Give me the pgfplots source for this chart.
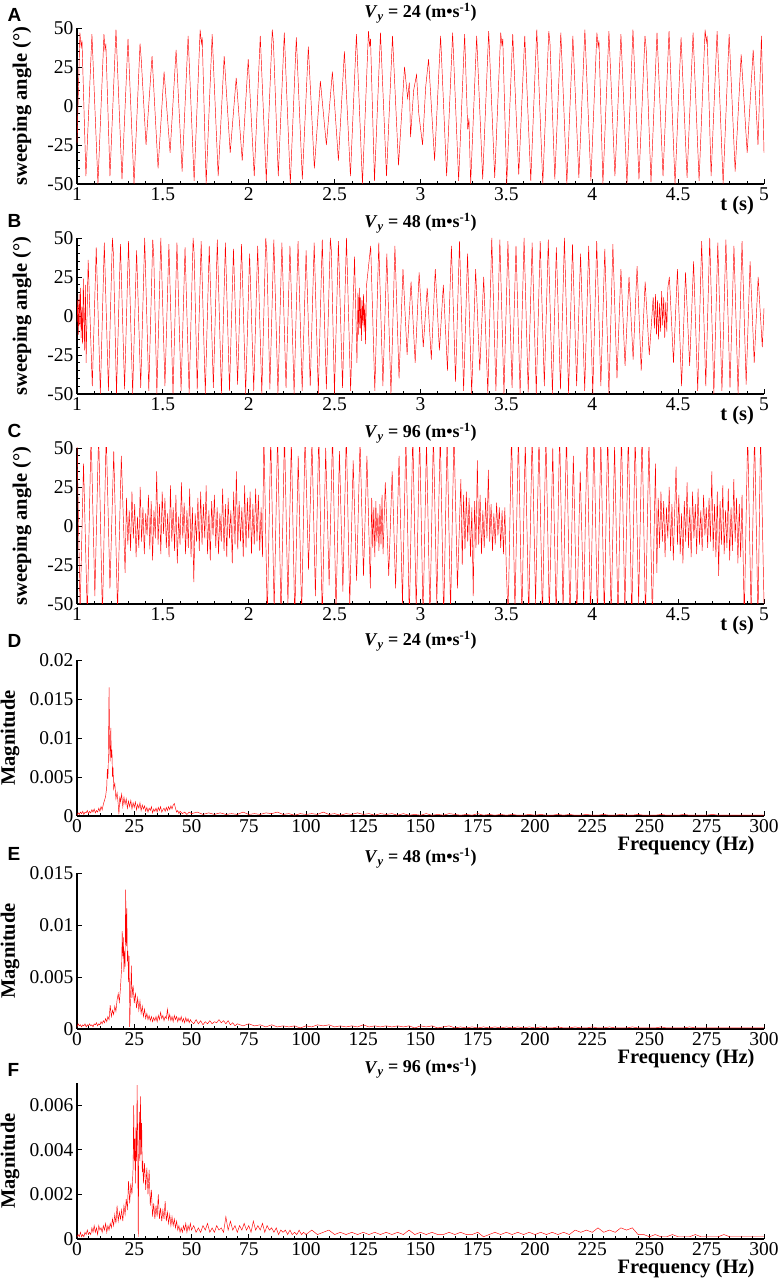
\documentclass[border=0pt]{standalone}
\usepackage{fontspec}
\setmainfont{Liberation Serif}
\setsansfont{Liberation Sans}
\usepackage{pgfplots}
\pgfplotsset{compat=1.18}
\newcommand{\vy}[1]{\textit{V}\textsubscript{\textit{y}} = #1 (m•s\textsuperscript{-1})}
\pgfplotsset{
  sig/.style={red, line width=0.45pt, mark=none},
  base/.style={
    scale only axis, width=687pt, height=156pt,
    anchor=south west,
    axis lines=left,
    axis line style={-, line width=1.2pt, black},
    tick align=inside,
    major tick style={black, line width=0.9pt},
    minor tick style={black, line width=0.6pt},
    major tick length=5pt, minor tick length=3pt,
    tick label style={font=\fontsize{19.5}{21}\selectfont},
    label style={font=\fontsize{20.5}{23}\selectfont\bfseries},
    title style={font=\fontsize{18}{20}\selectfont\bfseries, at={(0.5,1)}, anchor=base, yshift=4pt},
  },
  tser/.style={base, xmin=1, xmax=5, ymin=-50, ymax=50,
    xtick={1,1.5,2,2.5,3,3.5,4,4.5,5}, xticklabels={1,1.5,2,2.5,3,3.5,4,4.5,5},
    ytick={-50,-25,0,25,50}, yticklabels={-50,-25,0,25,50},
    minor x tick num=4, minor y tick num=4,
    xlabel={t (s)}, ylabel={sweeping angle (°)},
    xlabel style={at={(axis description cs:0.961,0)}, anchor=center, yshift=-22pt},
    ylabel style={at={(axis description cs:-0.0801,0.5)}, anchor=center},
  },
  spec/.style={base, xmin=0, xmax=300, ymin=0,
    xtick={0,25,50,75,100,125,150,175,200,225,250,275,300},
    xticklabels={0,25,50,75,100,125,150,175,200,225,250,275,300},
    minor x tick num=4, scaled y ticks=false,
    xlabel={Frequency (Hz)}, ylabel={Magnitude},
    xlabel style={at={(axis description cs:0.8865,0)}, anchor=center, yshift=-30pt},
    ylabel style={at={(axis description cs:-0.0975,0.5)}, anchor=center},
  },
}
\begin{document}
\begin{tikzpicture}
\useasboundingbox (0pt,0pt) rectangle (782pt,1281pt);
\tikzset{plab/.style={anchor=base west, font=\fontsize{19}{20}\selectfont\sffamily\bfseries}}
\node[plab] at (4pt,1259pt) {A};
\node[plab] at (4pt,1053pt) {B};
\node[plab] at (4pt,843pt) {C};
\node[plab] at (4pt,633pt) {D};
\node[plab] at (4pt,420pt) {E};
\node[plab] at (4pt,204pt) {F};

% ---------------- A ----------------
\begin{axis}[tser, at={(77pt,1097pt)}, title={\vy{24}}]
\addplot[sig] coordinates {
(1.000,-24) (1.017,47) (1.024,38) (1.029,42) (1.052,-45) (1.087,46) (1.122,-50) (1.157,46) (1.163,36) (1.168,40) (1.192,-45) (1.227,49) (1.262,-47) (1.297,43) (1.332,-50) (1.367,40) (1.374,30) (1.402,-25) (1.437,32) (1.472,-40) (1.507,22) (1.542,-30) (1.577,36) (1.612,-42) (1.647,45) (1.682,-48) (1.717,49) (1.724,40) (1.729,44) (1.752,-50) (1.787,46) (1.822,-45) (1.857,32) (1.892,-30) (1.927,18) (1.962,-35) (1.997,30) (2.032,-45) (2.067,45) (2.102,-48) (2.137,49) (2.144,40) (2.172,-45) (2.207,47) (2.242,-50) (2.277,44) (2.312,-47) (2.347,38) (2.382,-40) (2.417,16) (2.452,-25) (2.487,22) (2.522,-35) (2.557,35) (2.592,-45) (2.627,46) (2.662,-50) (2.697,48) (2.704,38) (2.709,43) (2.732,-48) (2.767,47) (2.802,-45) (2.837,45) (2.872,-38) (2.907,25) (2.925,5) (2.935,15) (2.942,-20) (2.960,10) (2.977,20) (2.990,-5) (3.012,-25) (3.030,12) (3.047,30) (3.082,-35) (3.117,45) (3.152,-45) (3.187,47) (3.222,-48) (3.257,46) (3.275,-15) (3.282,-8) (3.292,-50) (3.327,45) (3.362,-47) (3.397,48) (3.432,-46) (3.467,47) (3.474,39) (3.479,43) (3.502,-50) (3.537,46) (3.572,-44) (3.607,45) (3.642,-48) (3.677,49) (3.712,-50) (3.747,48) (3.754,40) (3.782,-47) (3.817,47) (3.852,-50) (3.887,45) (3.922,-46) (3.957,49) (3.992,-48) (4.027,47) (4.034,38) (4.039,42) (4.062,-50) (4.097,48) (4.132,-45) (4.167,46) (4.202,-50) (4.237,49) (4.272,-47) (4.307,45) (4.314,37) (4.342,-49) (4.377,47) (4.412,-45) (4.447,48) (4.482,-50) (4.517,44) (4.552,-46) (4.587,47) (4.622,-48) (4.657,49) (4.664,41) (4.669,45) (4.692,-45) (4.727,48) (4.762,-50) (4.797,46) (4.832,-42) (4.867,33) (4.902,-30) (4.937,36) (4.965,-25) (4.985,45) (5.000,-30)
};
\end{axis}

% ---------------- B ----------------
\begin{axis}[tser, at={(77pt,887pt)}, title={\vy{48}}]
\addplot[sig] coordinates {
(1.000,-4) (1.004,10) (1.008,-12) (1.012,14) (1.016,-6) (1.020,18) (1.024,-14) (1.028,6) (1.032,-18) (1.037,24) (1.043,-22) (1.049,20) (1.053,-30)
(1.065,36) (1.089,-45) (1.112,44) (1.136,-50) (1.159,47) (1.183,-48) (1.206,50) (1.212,40) (1.230,-50) (1.253,46) (1.277,-47) (1.300,48) (1.324,-50) (1.347,42) (1.371,-46) (1.394,50) (1.418,-48) (1.441,49) (1.447,38) (1.465,-50) (1.488,50) (1.512,-45) (1.535,46) (1.559,-50) (1.582,47) (1.606,-48) (1.629,44) (1.653,-50) (1.676,50) (1.682,40) (1.700,-47) (1.723,48) (1.747,-50) (1.770,45) (1.794,-46) (1.817,49) (1.841,-50) (1.864,47) (1.888,-48) (1.911,43) (1.935,-44) (1.958,46) (1.982,-50) (2.005,40) (2.029,-48) (2.052,45) (2.076,-50) (2.099,50) (2.105,41) (2.123,-47) (2.146,49) (2.170,-50) (2.193,47) (2.217,-46) (2.240,45) (2.264,-50) (2.287,48) (2.311,-48) (2.334,42) (2.358,-45) (2.381,47) (2.405,-50) (2.428,49) (2.452,-47) (2.475,50) (2.481,42) (2.499,-50) (2.522,48) (2.546,-46) (2.569,50) (2.593,-48) (2.616,38) (2.630,-30)
(2.636,15) (2.640,-12) (2.644,18) (2.648,-8) (2.652,12) (2.656,-16) (2.660,10) (2.664,-6) (2.668,14) (2.672,-10) (2.676,8) (2.680,-18) (2.686,20)
(2.710,45) (2.734,-48) (2.757,47) (2.781,-45) (2.804,40) (2.828,-50) (2.851,45) (2.875,-40) (2.898,30) (2.922,-25) (2.945,22) (2.969,-30) (2.992,28) (3.016,-20) (3.039,18) (3.063,-28) (3.086,30) (3.110,-22) (3.133,20) (3.157,-35) (3.180,45) (3.204,-42) (3.227,48) (3.251,-48) (3.274,40) (3.298,-50) (3.321,30) (3.345,-35) (3.368,25) (3.392,-50) (3.415,50) (3.439,-48) (3.462,49) (3.486,-50) (3.509,48) (3.533,-46) (3.556,45) (3.580,-50) (3.603,50) (3.627,-49) (3.650,47) (3.674,-50) (3.697,48) (3.721,-45) (3.744,49) (3.768,-50) (3.791,44) (3.815,-47) (3.838,50) (3.862,-50) (3.885,46) (3.909,-45) (3.932,40) (3.956,-48) (3.979,45) (4.003,-50) (4.026,48) (4.050,-45) (4.073,43) (4.097,-50) (4.120,46) (4.144,-40) (4.167,30) (4.191,-32) (4.214,25) (4.238,-28) (4.261,32) (4.285,-35) (4.308,22) (4.332,-25) (4.355,12)
(4.362,-8) (4.368,14) (4.374,-12) (4.380,10) (4.386,-15) (4.392,8) (4.398,-10) (4.404,16) (4.410,-6) (4.416,12) (4.422,-14) (4.428,9) (4.434,-10) (4.440,18)
(4.449,25) (4.473,-30) (4.496,30) (4.520,-45) (4.543,28) (4.567,-32) (4.590,35) (4.614,-48) (4.637,48) (4.661,-45) (4.684,50) (4.708,-50) (4.731,47) (4.755,-48) (4.778,49) (4.802,-46) (4.825,45) (4.849,-50) (4.872,48) (4.896,-44) (4.919,35) (4.943,-30) (4.966,25) (4.990,-20) (5.000,5)
};
\end{axis}

% ---------------- C ----------------
\begin{axis}[tser, at={(77pt,677pt)}, title={\vy{96}}]
\addplot[sig] coordinates {
(1.000,55) (1.018,-55) (1.038,40) (1.060,-58) (1.082,60) (1.104,-45) (1.126,60) (1.148,-58) (1.170,60) (1.192,-40) (1.214,48) (1.236,-55) (1.258,45) (1.280,-30)
(1.288,18) (1.296,-12) (1.304,10) (1.312,-16) (1.320,22) (1.328,-8) (1.336,14) (1.344,-20) (1.352,6) (1.360,-14) (1.368,25) (1.376,-10) (1.384,12) (1.392,-18) (1.400,8) (1.408,-6) (1.416,20) (1.424,-15) (1.432,16) (1.440,-22) (1.448,10) (1.456,-8) (1.464,35) (1.472,-12) (1.480,14) (1.488,-18) (1.496,22) (1.504,-5) (1.512,18) (1.520,-14) (1.528,8) (1.536,-20) (1.544,26) (1.552,-10) (1.560,12) (1.568,-16) (1.576,20) (1.584,-24) (1.592,6) (1.600,-12) (1.608,28) (1.616,-8) (1.624,15) (1.632,-18) (1.640,10) (1.648,-14) (1.656,24) (1.664,-20) (1.672,12) (1.680,-36) (1.688,8) (1.696,-10) (1.704,18) (1.712,-16) (1.720,22) (1.728,-12) (1.736,14) (1.744,-8) (1.752,26) (1.760,-18) (1.768,10) (1.776,-22) (1.784,16) (1.792,-6) (1.800,20) (1.808,-14) (1.816,12) (1.824,-18) (1.832,8) (1.840,-10) (1.848,24) (1.856,-16) (1.864,14) (1.872,-20) (1.880,18) (1.888,-8) (1.896,10) (1.904,-24) (1.912,22) (1.920,-12) (1.928,35) (1.936,-15) (1.944,16) (1.952,-10) (1.960,12) (1.968,-20) (1.976,26) (1.984,-14) (1.992,18) (2.000,-8) (2.008,22) (2.016,-18) (2.024,14) (2.032,-12) (2.040,24) (2.048,-10) (2.056,20) (2.064,-16) (2.072,12) (2.080,-20)
(2.088,60) (2.108,-60) (2.128,58) (2.148,-55) (2.168,60) (2.188,-60) (2.208,60) (2.228,-50) (2.248,55) (2.268,-60) (2.288,45) (2.308,-58) (2.328,60) (2.348,-28) (2.368,55) (2.388,-45) (2.408,60) (2.428,-60) (2.448,50) (2.468,-38) (2.488,60) (2.508,-55) (2.528,48) (2.548,-42) (2.568,60) (2.588,-52) (2.608,42) (2.628,-35) (2.648,55) (2.668,-32) (2.688,45) (2.708,-40)
(2.716,18) (2.722,-14) (2.728,12) (2.734,-20) (2.740,16) (2.746,-10) (2.752,8) (2.758,-16) (2.764,14) (2.770,-12) (2.776,20) (2.782,-18)
(2.795,28) (2.815,-32) (2.835,35) (2.855,-40) (2.875,45) (2.895,-50) (2.915,58) (2.935,-60) (2.955,60) (2.975,-55) (2.995,60) (3.015,-60) (3.035,55) (3.055,-60) (3.075,60) (3.095,-50) (3.115,60) (3.135,-60) (3.155,58) (3.175,-55) (3.195,60) (3.215,-40) (3.235,30)
(3.243,-25) (3.251,20) (3.259,-15) (3.267,22) (3.275,-10) (3.283,18) (3.291,-20) (3.299,12) (3.307,-45) (3.315,16) (3.323,-14) (3.331,42) (3.339,-12) (3.347,20) (3.355,-18) (3.363,10) (3.371,-14) (3.379,18) (3.387,-8) (3.395,36) (3.403,-10) (3.411,14) (3.419,-16) (3.427,8) (3.435,-12) (3.443,15) (3.451,-6) (3.459,12) (3.467,-14) (3.475,10) (3.483,-18) (3.491,12) (3.499,-25)
(3.510,-60) (3.530,60) (3.550,-55) (3.570,60) (3.590,-60) (3.610,55) (3.630,-60) (3.650,60) (3.670,-50) (3.690,58) (3.710,-60) (3.730,60) (3.750,-58) (3.770,50) (3.790,-60) (3.810,60) (3.830,-55) (3.850,60) (3.870,-60) (3.890,45) (3.910,-60) (3.930,35) (3.950,-52) (3.970,58) (3.990,-60) (4.010,60) (4.030,-60) (4.050,55) (4.070,-58) (4.090,60) (4.110,-60) (4.130,52) (4.150,-60) (4.170,60) (4.190,-55) (4.210,60) (4.230,-60) (4.250,58) (4.270,-50) (4.290,60) (4.310,-60) (4.330,55) (4.350,-60) (4.368,40)
(4.376,-30) (4.384,18) (4.392,-14) (4.400,22) (4.408,-10) (4.416,16) (4.424,-20) (4.432,12) (4.440,-8) (4.448,25) (4.456,-16) (4.464,14) (4.472,-22) (4.480,10) (4.488,38) (4.496,-12) (4.504,20) (4.512,-18) (4.520,8) (4.528,-24) (4.536,16) (4.544,-10) (4.552,28) (4.560,-14) (4.568,12) (4.576,-20) (4.584,22) (4.592,-8) (4.600,14) (4.608,-18) (4.616,24) (4.624,-12) (4.632,10) (4.640,-16) (4.648,20) (4.656,-6) (4.664,12) (4.672,-14) (4.680,18) (4.688,-10) (4.696,35) (4.704,-16) (4.712,14) (4.720,-20) (4.728,22) (4.736,-32) (4.744,16) (4.752,-12) (4.760,26) (4.768,-18) (4.776,10) (4.784,-14) (4.792,24) (4.800,-22) (4.808,12) (4.816,-16) (4.824,30) (4.832,-10) (4.840,18) (4.848,-24) (4.856,14) (4.864,-20) (4.872,20)
(4.885,-60) (4.905,60) (4.925,-58) (4.945,60) (4.965,-60) (4.980,60) (5.000,-50)
};
\end{axis}

% ---------------- D ----------------
\begin{axis}[spec, at={(77pt,465pt)}, ymax=0.02, title={\vy{24}}, title style={yshift=4pt},
  ytick={0,0.005,0.01,0.015,0.02}, yticklabels={0,0.005,0.01,0.015,0.02}]
\addplot[sig] coordinates {
(0,0.0001) (0.5,0.0004) (1,0.0002) (1.5,0.0005) (2,0.0003) (2.5,0.0006) (3,0.0002) (3.5,0.0005) (4,0.0004) (4.5,0.0007) (5,0.0003) (5.5,0.0006) (6,0.0004) (6.5,0.0008) (7,0.0005) (7.5,0.0009) (8,0.0004) (8.5,0.0007) (9,0.0005) (9.5,0.0010) (10,0.0006) (10.5,0.0012) (11,0.0008) (11.5,0.0015) (12,0.0020) (12.5,0.0025) (13,0.0038) (13.25,0.0060) (13.5,0.0048) (13.75,0.0080) (14,0.0165) (14.25,0.0090) (14.5,0.0070) (14.75,0.0113) (15,0.0075) (15.25,0.0085) (15.5,0.0050) (15.75,0.0062) (16,0.0035) (16.5,0.0042) (17,0.0022) (17.5,0.0030) (18,0.0015) (18.3,0.0002) (18.7,0.0025) (19,0.0018) (19.5,0.0028) (20,0.0012) (20.5,0.0024) (21,0.0015) (21.5,0.0022) (22,0.0010) (22.5,0.0019) (23,0.0012) (23.5,0.0020) (24,0.0009) (24.5,0.0017) (25,0.0011) (25.5,0.0018) (26,0.0008) (26.5,0.0015) (27,0.0010) (27.5,0.0017) (28,0.0007) (28.5,0.0014) (29,0.0009) (29.5,0.0013) (30,0.0006) (30.5,0.0011) (31,0.0005) (31.5,0.0010) (32,0.0007) (32.5,0.0012) (33,0.0004) (33.5,0.0009) (34,0.0006) (34.5,0.0010) (35,0.0005) (35.5,0.0011) (36,0.0007) (36.5,0.0012) (37,0.0005) (37.5,0.0008) (38,0.0010) (38.5,0.0006) (39,0.0011) (39.5,0.0007) (40,0.0012) (40.5,0.0008) (41,0.0013) (41.5,0.0009) (42,0.0014) (42.5,0.0016) (43,0.0010) (43.5,0.0005) (44,0.0007) (44.5,0.0003) (45,0.0006) (46,0.0003) (47,0.0005) (48,0.0002) (49,0.0005) (50,0.0003)
(52.5,0.0005) (55,0.0002) (57.5,0.0004) (60,0.0002) (62.5,0.0004) (65,0.0002) (67.5,0.0003) (70,0.0002) (72.5,0.0005) (75,0.0002) (77.5,0.0003) (80,0.0002) (82.5,0.0004) (85,0.0003) (87.5,0.0005) (90,0.0002) (92.5,0.0003) (95,0.0001) (97.5,0.0003) (100,0.0002) (102.5,0.0003) (105,0.0002) (107.5,0.0005) (110,0.0002) (112.5,0.0003) (115,0.0001) (117.5,0.0003) (120,0.0002) (122.5,0.0004) (125,0.0002) (127.5,0.0003) (130,0.0001) (132.5,0.0003) (135,0.0002) (137.5,0.0003) (140,0.0001)
(142.5,0.0003) (145,0.0001) (147.5,0.0002) (150,0.0001) (152.5,0.0003) (155,0.0001) (157.5,0.0002) (160,0.0001) (162.5,0.0003) (165,0.0002) (167.5,0.0001) (170,0.0002) (172.5,0.0001) (175,0.0003) (177.5,0.0001) (180,0.0002) (182.5,0.0001) (185,0.0002) (187.5,0.0001) (190,0.0002) (192.5,0.0001) (195,0.0001) (197.5,0.0002) (200,0.0001) (202.5,0.0002) (205,0.0001) (207.5,0.0001) (210,0.0002) (212.5,0.0001) (215,0.0002) (217.5,0.0001) (220,0.0001) (222.5,0.0002) (225,0.0001) (227.5,0.0001) (230,0.0002) (232.5,0.0001) (235,0.0001) (237.5,0.0002) (240,0.0001) (242.5,0.0001) (245,0.0002) (247.5,0.0001) (250,0.0001) (252.5,0.0001) (255,0.0002) (257.5,0.0001) (260,0.0001) (262.5,0.0001) (265,0.0002) (267.5,0.0001) (270,0.0001) (272.5,0.0001) (275,0.0001) (277.5,0.0002) (280,0.0001) (282.5,0.0001) (285,0.0001) (287.5,0.0001) (290,0.0001) (292.5,0.0001) (295,0.0001) (297.5,0.0001) (300,0.0001)
};
\end{axis}

% ---------------- E ----------------
\begin{axis}[spec, at={(77pt,252pt)}, ymax=0.015, title={\vy{48}},
  ytick={0,0.005,0.01,0.015}, yticklabels={0,0.005,0.01,0.015}]
\addplot[sig] coordinates {
(0,0.0002) (0.5,0.0005) (1,0.0003) (1.5,0.0004) (2,0.0002) (2.5,0.0004) (3,0.0003) (3.5,0.0005) (4,0.0002) (4.5,0.0004) (5,0.0003) (5.5,0.0005) (6,0.0003) (6.5,0.0004) (7,0.0002) (7.5,0.0005) (8,0.0004) (8.5,0.0006) (9,0.0003) (9.5,0.0005) (10,0.0004) (10.5,0.0007) (11,0.0005) (11.5,0.0008) (12,0.0006) (12.5,0.0010) (13,0.0007) (13.5,0.0012) (14,0.0009) (14.5,0.0023) (15,0.0012) (15.5,0.0018) (16,0.0014) (16.5,0.0022) (17,0.0017) (17.5,0.0028) (18,0.0034) (18.5,0.0026) (19,0.0040) (19.5,0.0060) (19.75,0.0094) (20,0.0070) (20.25,0.0088) (20.5,0.0055) (20.75,0.0075) (21,0.0060) (21.25,0.0134) (21.5,0.0080) (21.75,0.0116) (22,0.0065) (22.25,0.0075) (22.5,0.0045) (22.75,0.0070) (23,0.0002) (23.5,0.0040) (23.75,0.0061) (24,0.0030) (24.5,0.0042) (25,0.0025) (25.5,0.0035) (26,0.0020) (26.5,0.0030) (27,0.0018) (27.5,0.0027) (28,0.0015) (28.5,0.0022) (29,0.0012) (29.5,0.0019) (30,0.0010) (30.5,0.0015) (31,0.0009) (31.5,0.0013) (32,0.0008) (32.5,0.0012) (33,0.0007) (33.5,0.0011) (34,0.0008) (34.5,0.0012) (35,0.0007) (35.5,0.0013) (36,0.0009) (36.5,0.0016) (37,0.0010) (37.5,0.0013) (38,0.0008) (38.5,0.0012) (39,0.0010) (39.5,0.0019) (40,0.0009) (40.5,0.0014) (41,0.0008) (41.5,0.0012) (42,0.0007) (42.5,0.0013) (43,0.0009) (43.5,0.0012) (44,0.0007) (44.5,0.0011) (45,0.0008) (45.5,0.0012) (46,0.0007) (46.5,0.0010) (47,0.0006) (47.5,0.0011) (48,0.0007) (48.5,0.0010) (49,0.0006) (49.5,0.0009) (50,0.0007)
(51,0.0005) (52,0.0009) (53,0.0005) (54,0.0008) (55,0.0004) (56,0.0007) (57,0.0005) (58,0.0008) (59,0.0005) (60,0.0007) (61,0.0006) (62,0.0009) (63,0.0006) (64,0.0008) (65,0.0005) (66,0.0008) (67,0.0004) (68,0.0006) (69,0.0003) (70,0.0005)
(72.5,0.0003) (75,0.0005) (77.5,0.0003) (80,0.0004) (82.5,0.0002) (85,0.0004) (87.5,0.0002) (90,0.0003) (92.5,0.0002) (95,0.0003) (97.5,0.0001) (100,0.0003) (102.5,0.0002) (105,0.0004) (107.5,0.0003) (110,0.0004) (112.5,0.0002) (115,0.0003) (117.5,0.0002) (120,0.0003) (122.5,0.0002) (125,0.0004) (127.5,0.0002) (130,0.0003) (132.5,0.0002) (135,0.0003) (137.5,0.0002) (140,0.0003) (142.5,0.0002) (145,0.0003) (147.5,0.0001) (150,0.0003) (152.5,0.0002) (155,0.0003) (157.5,0.0001) (160,0.0002) (162.5,0.0003) (165,0.0001) (167.5,0.0002) (170,0.0001) (172.5,0.0002) (175,0.0001) (177.5,0.0002) (180,0.0001) (182.5,0.0002) (185,0.0001) (187.5,0.0002) (190,0.0001) (192.5,0.0002) (195,0.0001) (197.5,0.0002) (200,0.0001) (202.5,0.0002) (205,0.0001) (207.5,0.0001) (210,0.0002) (212.5,0.0001) (215,0.0001) (217.5,0.0002) (220,0.0001) (222.5,0.0001) (225,0.0002) (227.5,0.0001) (230,0.0001) (232.5,0.0002) (235,0.0001) (237.5,0.0001) (240,0.0001) (242.5,0.0002) (245,0.0001) (247.5,0.0001) (250,0.0001) (252.5,0.0001) (255,0.0002) (257.5,0.0001) (260,0.0001) (262.5,0.0001) (265,0.0001) (267.5,0.0002) (270,0.0001) (272.5,0.0001) (275,0.0001) (277.5,0.0001) (280,0.0001) (282.5,0.0001) (285,0.0001) (287.5,0.0001) (290,0.0001) (292.5,0.0001) (295,0.0001) (297.5,0.0001) (300,0.0001)
};
\end{axis}

% ---------------- F ----------------
\begin{axis}[spec, at={(77pt,42pt)}, ymax=0.007, title={\vy{96}},
  ytick={0,0.002,0.004,0.006}, yticklabels={0,0.002,0.004,0.006}]
\addplot[sig] coordinates {
(0,0.0001) (0.5,0.0002) (1,0.0001) (1.5,0.0003) (2,0.0001) (2.5,0.0002) (3,0.0001) (3.5,0.0003) (4,0.0002) (4.5,0.0004) (5,0.0002) (5.5,0.0003) (6,0.0002) (6.5,0.0005) (7,0.0003) (7.5,0.0006) (8,0.0003) (8.5,0.0005) (9,0.0002) (9.5,0.0006) (10,0.0004) (10.5,0.0005) (11,0.0003) (11.5,0.0006) (12,0.0004) (12.5,0.0007) (13,0.0003) (13.5,0.0006) (14,0.0004) (14.5,0.0007) (15,0.0005) (15.5,0.0009) (16,0.0006) (16.5,0.0011) (17,0.0007) (17.5,0.0015) (18,0.0008) (18.5,0.0012) (19,0.0009) (19.5,0.0013) (20,0.0008) (20.5,0.0015) (21,0.0011) (21.5,0.0018) (22,0.0013) (22.5,0.0026) (23,0.0016) (23.5,0.0025) (24,0.0020) (24.5,0.0032) (24.75,0.0060) (25,0.0035) (25.25,0.0045) (25.5,0.0025) (25.75,0.0050) (26,0.0035) (26.25,0.0069) (26.5,0.0045) (26.75,0.0001) (27,0.0040) (27.25,0.0057) (27.5,0.0035) (27.75,0.0064) (28,0.0038) (28.25,0.0052) (28.5,0.0030) (28.75,0.0035) (29,0.0025) (29.5,0.0034) (30,0.0022) (30.5,0.0032) (31,0.0020) (31.5,0.0031) (32,0.0015) (32.5,0.0022) (33,0.0010) (33.5,0.0016) (34,0.0009) (34.5,0.0015) (35,0.0010) (35.5,0.0020) (36,0.0009) (36.5,0.0014) (37,0.0008) (37.5,0.0013) (38,0.0009) (38.5,0.0017) (39,0.0008) (39.5,0.0012) (40,0.0007) (40.5,0.0011) (41,0.0006) (41.5,0.0010) (42,0.0006) (42.5,0.0009) (43,0.0005) (43.5,0.0008) (44,0.0004) (44.5,0.0006) (45,0.0003) (45.5,0.0005) (46,0.0003) (46.5,0.0006) (47,0.0004) (47.5,0.0007) (48,0.0003) (48.5,0.0006) (49,0.0004) (49.5,0.0007) (50,0.0004)
(51,0.0006) (52,0.0003) (53,0.0005) (54,0.0003) (55,0.0006) (56,0.0004) (57,0.0007) (58,0.0003) (59,0.0005) (60,0.0003) (61,0.0006) (62,0.0004) (63,0.0005) (64,0.0003) (65,0.0010) (66,0.0004) (67,0.0008) (68,0.0004) (69,0.0006) (70,0.0003) (71,0.0006) (72,0.0004) (73,0.0007) (74,0.0004) (75,0.0006) (76,0.0003) (77,0.0008) (78,0.0004) (79,0.0006) (80,0.0004) (81,0.0007) (82,0.0003) (83,0.0006) (84,0.0004) (85,0.0005) (86,0.0003) (87,0.0005) (88,0.0002) (89,0.0004) (90,0.0003) (91,0.0004) (92,0.0002) (93,0.0004) (94,0.0002) (95,0.0003) (96,0.0002) (97,0.0004) (98,0.0002) (99,0.0003) (100,0.0002)
(102.5,0.0004) (105,0.0002) (107.5,0.0003) (110,0.0004) (112.5,0.0002) (115,0.0003) (117.5,0.0002) (120,0.0003) (122.5,0.0002) (125,0.0003) (127.5,0.0002) (130,0.0003) (132.5,0.0002) (135,0.0003) (137.5,0.0002) (140,0.0003) (142.5,0.0002) (145,0.0004) (147.5,0.0002) (150,0.0003) (152.5,0.0002) (155,0.0003) (157.5,0.0002) (160,0.0002) (162.5,0.0003) (165,0.0002) (167.5,0.0003) (170,0.0002) (172.5,0.0002) (175,0.0003) (177.5,0.0001) (180,0.0002) (182.5,0.0003) (185,0.0002) (187.5,0.0003) (190,0.0002) (192.5,0.0003) (195,0.0002) (197.5,0.0003) (200,0.0002) (202.5,0.0003) (205,0.0002) (207.5,0.0003) (210,0.0002) (212.5,0.0003) (215,0.0002) (217.5,0.0004) (220,0.0003) (222.5,0.0004) (225,0.0003) (227.5,0.0005) (230,0.0003) (232.5,0.0004) (235,0.0003) (237.5,0.0005) (240,0.0004) (242.5,0.0005) (245,0.0002) (247.5,0.0002) (250,0.0001) (252.5,0.0002) (255,0.0001) (257.5,0.0001) (260,0.0002) (262.5,0.0001) (265,0.0001) (267.5,0.0001) (270,0.0002) (272.5,0.0001) (275,0.0001) (277.5,0.0001) (280,0.0001) (282.5,0.0002) (285,0.0001) (287.5,0.0001) (290,0.0001) (292.5,0.0001) (295,0.0001) (297.5,0.0001) (300,0.0001)
};
\end{axis}
\end{tikzpicture}
\end{document}
